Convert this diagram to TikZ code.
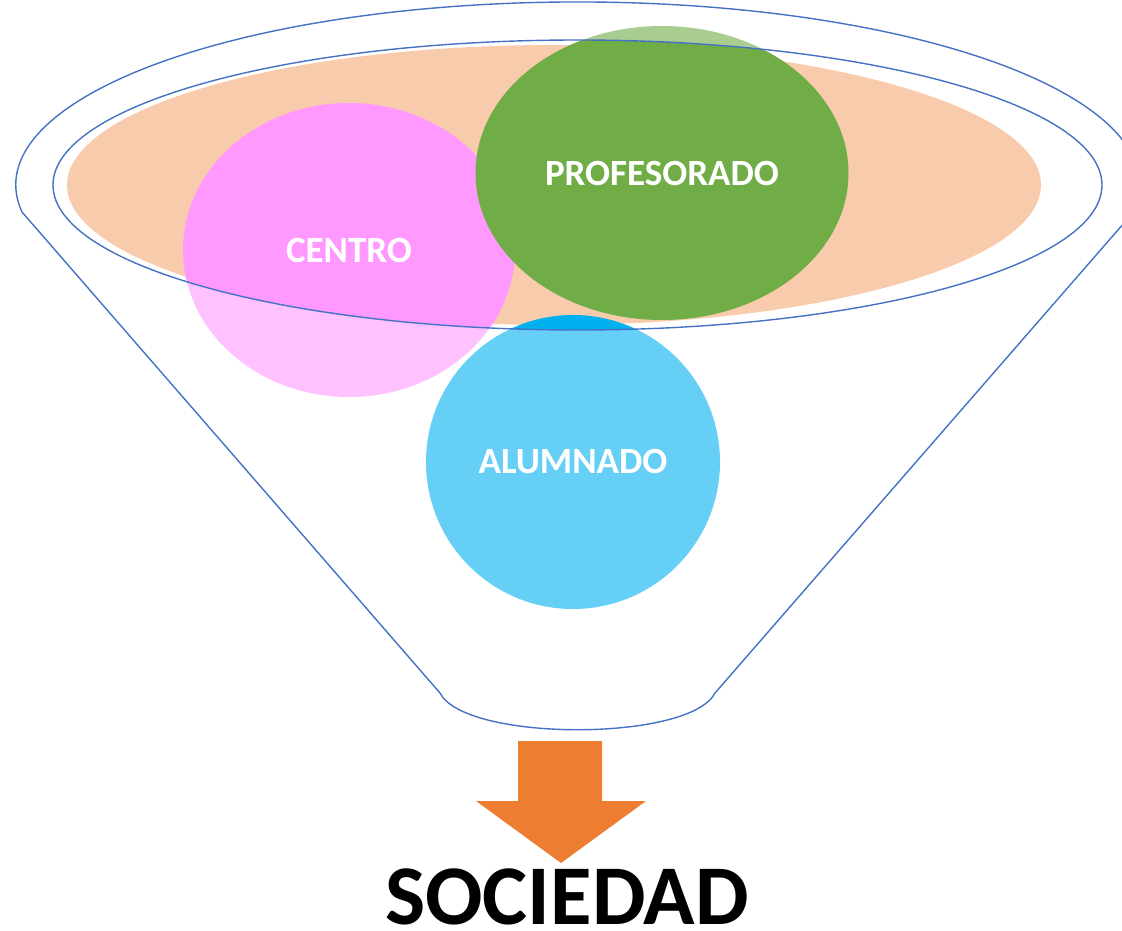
\documentclass[tikz,border=0pt]{standalone}
\usepackage{fontspec}
\setmainfont{Carlito}
\usetikzlibrary{shapes.geometric}
\pgfdeclarelayer{edgelayer}
\pgfdeclarelayer{nodelayer}
\pgfsetlayers{nodelayer,edgelayer,main}
\definecolor{naranja}{HTML}{F8CBAD}
\definecolor{rosa}{HTML}{FF99FF}
\definecolor{verde}{HTML}{70AD47}
\definecolor{azul}{HTML}{00B0F0}
\definecolor{borde}{HTML}{4472C4}
\definecolor{flecha}{HTML}{ED7D31}
\tikzset{font=\bfseries\fontsize{37}{44}\selectfont}
\tikzstyle{none}=[inner sep=0pt]
\tikzstyle{bola}=[ellipse,inner sep=0pt,text=white]
\tikzstyle{embudo}=[draw=borde,line width=1.4pt]

\begin{document}
\begin{tikzpicture}[x=1pt,y=-1pt]
	\useasboundingbox (0,0) rectangle (1122,931);
	\begin{pgfonlayer}{nodelayer}
		\node [style=bola,fill=naranja,minimum width=974pt,minimum height=280pt] (0) at (554,185) {};
		\node [style=bola,fill=rosa,minimum width=332pt,minimum height=294pt] (1) at (349,250) {CENTRO};
		\node [style=bola,fill=verde,minimum width=373pt,minimum height=294pt] (2) at (662,173) {PROFESORADO};
		\node [style=bola,fill=azul,minimum width=294pt,minimum height=294pt] (3) at (573,462) {ALUMNADO};
	\end{pgfonlayer}
	\begin{pgfonlayer}{edgelayer}
		\coordinate (4) at (22,212);
		\coordinate (5) at (1133,212);
		\coordinate (6) at (715,693);
		\coordinate (7) at (440,693);
		\fill[white,fill opacity=0.4,even odd rule] (4) arc[start angle=171.5,end angle=368.5,x radius=562,y radius=183] -- (6) .. controls (690,742) and (465,742) .. (7) -- cycle (577.5,185) ellipse[x radius=524.5,y radius=145];
		\draw[style=embudo] (4) arc[start angle=171.5,end angle=368.5,x radius=562,y radius=183] -- (6) .. controls (690,742) and (465,742) .. (7) -- cycle;
		\draw[style=embudo] (577.5,185) ellipse[x radius=524.5,y radius=145];
	\end{pgfonlayer}
	\fill[flecha] (518,741) -- (602,741) -- (602,801) -- (646,801) -- (561,863) -- (476,801) -- (518,801) -- cycle;
	\node [style=none,anchor=base,font=\bfseries\fontsize{85}{100}\selectfont] (8) at (567,924) {SOCIEDAD};
\end{tikzpicture}
\end{document}
